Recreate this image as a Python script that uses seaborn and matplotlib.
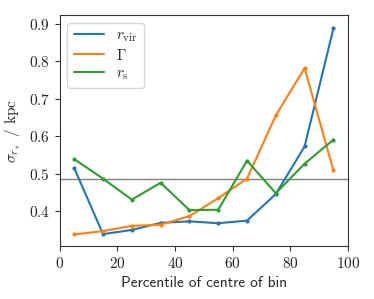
import matplotlib
matplotlib.use("Agg")
import matplotlib.pyplot as plt
import pandas as pd
import seaborn as sns

percentile = [5, 15, 25, 35, 45, 55, 65, 75, 85, 95]
sigma_rvir = [0.515, 0.339, 0.350, 0.369, 0.373, 0.368, 0.375, 0.446, 0.573, 0.888]
sigma_gamma = [0.338, 0.347, 0.361, 0.364, 0.387, 0.435, 0.487, 0.656, 0.782, 0.509]
sigma_rs = [0.539, 0.487, 0.431, 0.476, 0.403, 0.404, 0.535, 0.448, 0.527, 0.591]
baseline = 0.487

labels = [r"$r_{\rm vir}$", r"$\Gamma$", r"$r_{\rm s}$"]

df = pd.DataFrame({
    "percentile": percentile * 3,
    "sigma": sigma_rvir + sigma_gamma + sigma_rs,
    "param": [labels[0]] * 10 + [labels[1]] * 10 + [labels[2]] * 10,
})

sns.set_style("ticks")
plt.rcParams["font.family"] = ["cmr10", "DejaVu Serif"]
plt.rcParams["mathtext.fontset"] = "cm"
plt.rcParams["axes.formatter.use_mathtext"] = True
plt.rcParams["axes.unicode_minus"] = False

fig = plt.figure(figsize=(3.74, 2.99), dpi=100)
ax = fig.add_axes([0.160, 0.177, 0.770, 0.773])

sns.lineplot(data=df, x="percentile", y="sigma", hue="param", ax=ax,
             palette=["#1f77b4", "#ff7f0e", "#2ca02c"], marker="o",
             markersize=3, markeredgewidth=0, linewidth=1.5)
ax.axhline(baseline, color="grey", linewidth=1, zorder=0)

ax.set_xlim(0, 100)
ax.set_ylim(0.307, 0.924)
ax.set_xticks([0, 20, 40, 60, 80, 100])
ax.set_yticks([0.4, 0.5, 0.6, 0.7, 0.8, 0.9])
ax.tick_params(labelsize=11, length=3.5, width=0.8, direction="out", color="#333333")
ax.set_xlabel("Percentile of centre of bin", fontsize=11, family="cmss10")
ax.set_ylabel(r"$\sigma_{r_*}$ / kpc", fontsize=11)
for s in ax.spines.values():
    s.set_linewidth(0.8)
    s.set_color("#333333")

leg = ax.legend(loc="upper left", fontsize=11, frameon=True, handlelength=2.0,
                labelspacing=0.25, borderaxespad=0.5)
leg.set_title(None)
for line in leg.get_lines():
    line.set_marker("")

fig.savefig("out.png", dpi=100)
